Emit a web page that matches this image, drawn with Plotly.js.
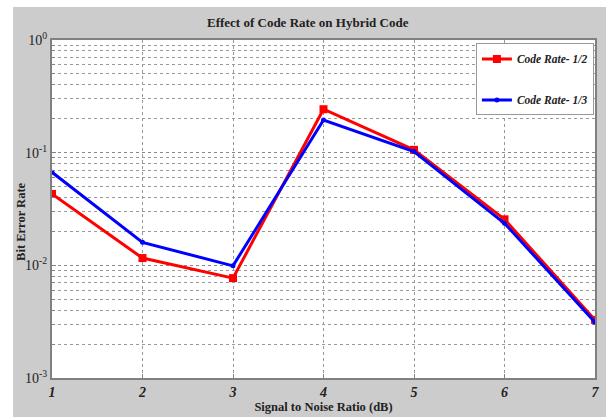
<!DOCTYPE html>
<html>
<head>
<meta charset="utf-8">
<script src="https://cdn.plot.ly/plotly-3.0.1.min.js"></script>
<style>
html,body{margin:0;padding:0;background:#ffffff;width:606px;height:417px;overflow:hidden;}
#chart{position:absolute;left:13px;top:7px;width:593px;height:410px;}
</style>
</head>
<body>
<div id="chart"></div>
<script>
var snr = [1, 2, 3, 4, 5, 6, 7];
var berRateHalf = [0.043, 0.0116, 0.0077, 0.243, 0.106, 0.0256, 0.00328];
var berRateThird = [0.067, 0.016, 0.0099, 0.195, 0.1025, 0.0236, 0.00313];
var yTickVals = [0.001, 0.01, 0.1, 1];
var yTickText = ['10<sup>-3</sup>', '10<sup>-2</sup>', '10<sup>-1</sup>', '10<sup>0</sup>'];
var xTickVals = [1, 2, 3, 4, 5, 6, 7];

var minorVals = [];
yTickVals.slice(0, 3).forEach(function (d) {
  for (var k = 2; k <= 9; k++) minorVals.push(d * k);
});

var serif = 'Liberation Serif, Times New Roman, Times, serif';

var traces = [
  {
    x: snr, y: berRateHalf, name: '<b><i>Code Rate- 1/2</i></b>',
    mode: 'lines+markers', legendgroup: 'a',
    line: {color: '#ff0000', width: 3},
    marker: {symbol: 'square', size: 8, color: '#ff0000'}
  },
  {
    x: snr, y: berRateThird, name: '<b><i>Code Rate- 1/3</i></b>',
    mode: 'lines+markers', legendgroup: 'b',
    line: {color: '#0000ff', width: 3},
    marker: {symbol: 'circle', size: 5, color: '#0000ff'}
  }
];

var layout = {
  width: 593, height: 410,
  paper_bgcolor: '#cccccc', plot_bgcolor: '#ffffff',
  margin: {l: 39, r: 11, t: 33, b: 39},
  font: {family: serif, color: '#222222'},
  title: {text: '<b>Effect of Code Rate on Hybrid Code</b>', font: {family: serif, size: 13, color: '#222222'}, x: 0.497, xanchor: 'center', y: 0.963, yanchor: 'middle'},
  xaxis: {
    range: [1, 7], tickmode: 'array', tickvals: xTickVals,
    ticktext: xTickVals.map(function (v) { return '<b><i>' + v + '</i></b>'; }),
    tickfont: {family: serif, size: 14, color: '#222222'},
    showgrid: true, gridcolor: '#999999', griddash: 'dot', gridwidth: 1,
    showline: true, linecolor: '#808080', linewidth: 2, mirror: true,
    ticks: 'inside', ticklen: 4, tickcolor: '#808080',
    zeroline: false,
    title: {text: '<b>Signal to Noise Ratio (dB)</b>', font: {family: serif, size: 12.5, color: '#222222'}, standoff: 3}
  },
  yaxis: {
    type: 'log', range: [-3, 0], tickmode: 'array', tickvals: yTickVals, ticktext: yTickText,
    tickfont: {family: serif, size: 14, color: '#222222'},
    showgrid: true, gridcolor: '#888888', griddash: 'dot', gridwidth: 1,
    showline: true, linecolor: '#808080', linewidth: 2, mirror: true,
    ticks: 'inside', ticklen: 4, tickcolor: '#808080',
    minor: {tickmode: 'array', tickvals: minorVals, showgrid: true, gridcolor: '#999999', griddash: 'dot', gridwidth: 1, ticks: 'inside', ticklen: 3, tickcolor: '#808080'},
    zeroline: false
  },
  annotations: [{
    text: '<b>Bit Error Rate</b>', textangle: -90, showarrow: false,
    xref: 'paper', yref: 'paper', x: -0.057, y: 0.462, xanchor: 'center', yanchor: 'middle',
    font: {family: serif, size: 12.5, color: '#222222'}
  }],
  legend: {
    x: 0.998, xanchor: 'right', y: 0.99, yanchor: 'top',
    bgcolor: '#ffffff', bordercolor: '#999999', borderwidth: 1,
    font: {family: serif, size: 11.5, color: '#222222'},
    tracegroupgap: 22, itemwidth: 30
  },
  showlegend: true
};

Plotly.newPlot('chart', traces, layout, {displayModeBar: false, staticPlot: true});
</script>
</body>
</html>
